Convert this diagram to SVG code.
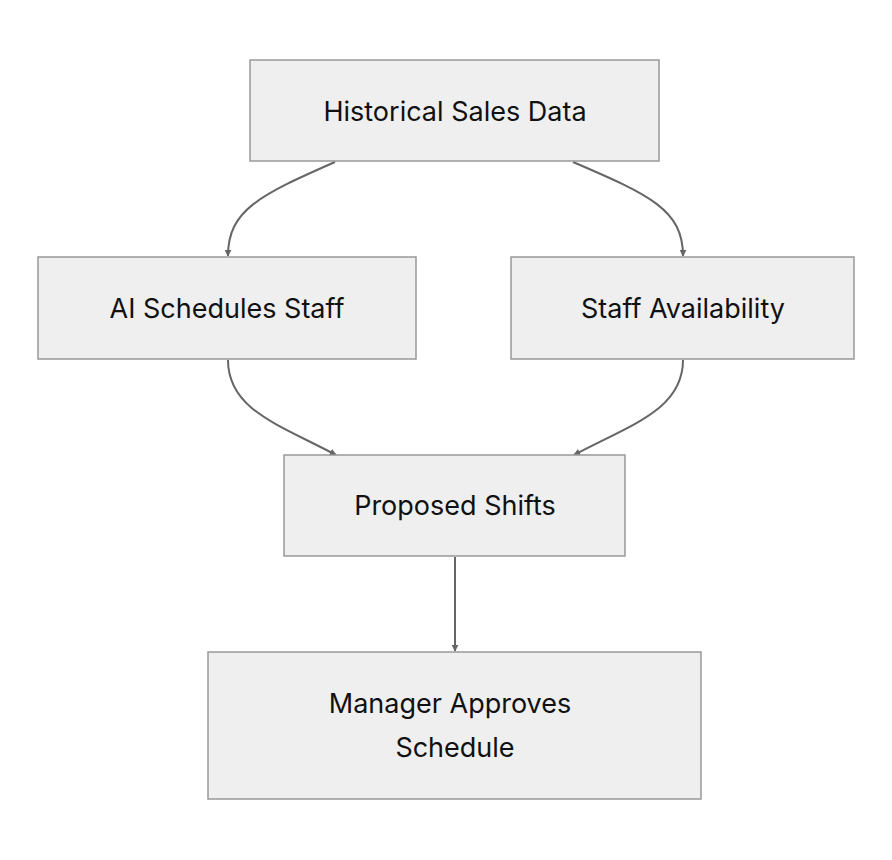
<svg xmlns="http://www.w3.org/2000/svg" width="892" height="860" viewBox="0 0 892 860">
<style>
.n rect{fill:#efefef;stroke:#999;stroke-width:1.5}
.n text{font-family:Inter,"Liberation Sans",sans-serif;font-size:27px;fill:#111;text-anchor:middle;dominant-baseline:central}
.e path{fill:none;stroke:#666;stroke-width:2;marker-end:url(#a)}
</style>
<defs><marker id="a" viewBox="0 0 10 10" refX="9" refY="5" markerWidth="7" markerHeight="7" markerUnits="userSpaceOnUse" orient="auto"><path d="M0,0L10,5L0,10z" fill="#666"/></marker></defs>
<rect width="892" height="860" fill="#fff"/>
<g class="e">
<path d="M335,162 C260,195 228,210 228,256"/>
<path d="M573,162 C650,195 683,210 683,256"/>
<path d="M228,360 C228,410 280,425 336,455"/>
<path d="M683,360 C683,410 630,425 574,455"/>
<path d="M455,557 L455,651"/>
</g>
<g class="n" id="n1"><rect x="250" y="60" width="409" height="101"/><text x="455" y="111">Historical Sales Data</text></g>
<g class="n" id="n2"><rect x="38" y="257" width="378" height="102"/><text x="227" y="308">AI Schedules Staff</text></g>
<g class="n" id="n3"><rect x="511" y="257" width="343" height="102"/><text x="683" y="308">Staff Availability</text></g>
<g class="n" id="n4"><rect x="284" y="455" width="341" height="101"/><text x="455" y="505">Proposed Shifts</text></g>
<g class="n" id="n5"><rect x="208" y="652" width="493" height="147"/><text x="450" y="703">Manager Approves</text><text x="455" y="747">Schedule</text></g>
</svg>
